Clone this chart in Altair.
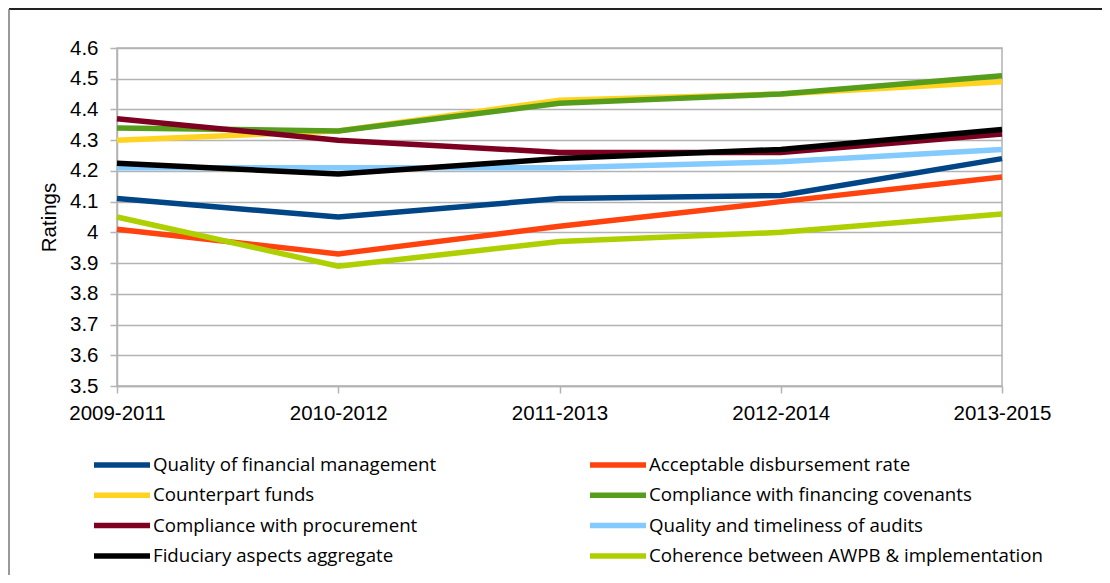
import altair as alt
import pandas as pd

periods = ["2009-2011", "2010-2012", "2011-2013", "2012-2014", "2013-2015"]

series = [
    "Quality of financial management",
    "Acceptable disbursement rate",
    "Counterpart funds",
    "Compliance with financing covenants",
    "Compliance  with procurement",
    "Quality and timeliness of audits",
    "Fiduciary aspects aggregate",
    "Coherence between AWPB & implementation",
]

quality_fm = [4.11, 4.05, 4.11, 4.12, 4.24]
disbursement = [4.01, 3.93, 4.02, 4.10, 4.18]
counterpart = [4.30, 4.33, 4.43, 4.45, 4.49]
covenants = [4.34, 4.33, 4.42, 4.45, 4.51]
procurement = [4.37, 4.30, 4.26, 4.26, 4.32]
audits = [4.21, 4.21, 4.21, 4.23, 4.27]
fiduciary = [4.225, 4.19, 4.24, 4.27, 4.335]
coherence = [4.05, 3.89, 3.97, 4.00, 4.06]

values = [quality_fm, disbursement, counterpart, covenants,
          procurement, audits, fiduciary, coherence]

colors = ["#004586", "#ff420e", "#ffd320", "#579d1c",
          "#7e0021", "#83caff", "#000000", "#aecf00"]
widths = [5.5, 5.5, 5.5, 5.5, 5.5, 5.5, 8, 5.5]

# legend is filled column by column: reorder so it reads row by row
legend_order = [0, 2, 4, 6, 1, 3, 5, 7]
legend_series = [series[i] for i in legend_order]
legend_colors = [colors[i] for i in legend_order]
legend_widths = [widths[i] for i in legend_order]

y_ticks = [3.5, 3.6, 3.7, 3.8, 3.9, 4.0, 4.1, 4.2, 4.3, 4.4, 4.5, 4.6]

rows = []
for name, vals in zip(series, values):
    for p, v in zip(periods, vals):
        rows.append({"series": name, "period": p, "value": v})
df = pd.DataFrame(rows)

lines = alt.Chart(df).mark_line().encode(
    x=alt.X("period:N", sort=periods, title=None,
            scale=alt.Scale(type="point", padding=0),
            axis=alt.Axis(labelAngle=0, tickSize=7, labelPadding=10, grid=False)),
    y=alt.Y("value:Q", title="Ratings",
            scale=alt.Scale(domain=[3.5, 4.6], nice=False, zero=False),
            axis=alt.Axis(values=y_ticks, format="~g", tickSize=7, labelPadding=12,
                          titlePadding=10)),
    color=alt.Color("series:N", title=None,
                    scale=alt.Scale(domain=legend_series, range=legend_colors),
                    legend=alt.Legend(orient="none", legendX=-26, legendY=407,
                                      columns=2, symbolType="stroke",
                                      symbolSize=3136, symbolStrokeWidth=5,
                                      clipHeight=20, rowPadding=10.3,
                                      columnPadding=150, labelOffset=0,
                                      labelFont="Open Sans", labelFontSize=18.7,
                                      labelColor="#000", labelLimit=600,
                                      padding=0)),
    strokeWidth=alt.StrokeWidth("series:N", title=None,
                                scale=alt.Scale(domain=legend_series, range=legend_widths)),
)

frame = pd.DataFrame({"a": [0]})
top_rule = alt.Chart(frame).mark_rule(color="#222", strokeWidth=2).encode(
    x=alt.value(-108), x2=alt.value(1000), y=alt.value(-39))
left_rule = alt.Chart(frame).mark_rule(color="#777", strokeWidth=1.5).encode(
    x=alt.value(-108), y=alt.value(-39), y2=alt.value(600))

chart = alt.layer(lines, top_rule, left_rule).properties(
    width=885, height=338,
    background="white",
    autosize=alt.AutoSizeParams(type="none"),
    padding={"left": 109, "top": 40, "right": 100, "bottom": 189},
).configure_view(
    stroke="#b3b3b3", strokeWidth=1.5
).configure_axis(
    labelFont="Liberation Sans", labelFontSize=20.5, labelColor="#000",
    tickColor="#b3b3b3", tickWidth=1.5, domainColor="#b3b3b3", domainWidth=1.5,
    gridColor="#b3b3b3", gridWidth=1.5,
    titleFont="Liberation Sans", titleFontSize=20.5, titleFontWeight="normal",
    titleColor="#000",
)

chart.save("out.html", embed_options={"renderer": "svg", "actions": False})
